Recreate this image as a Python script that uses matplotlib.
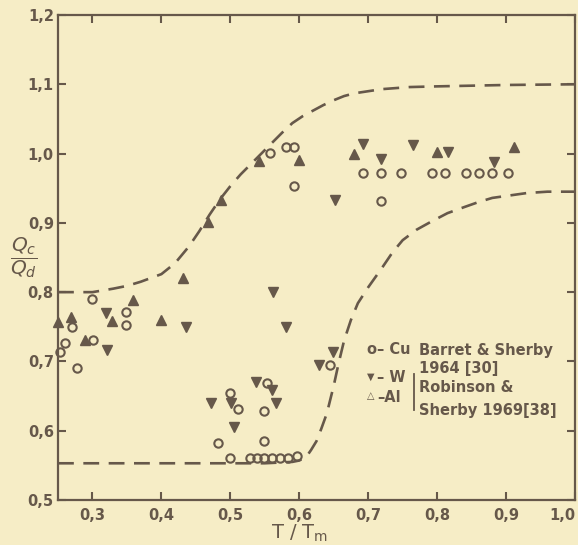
import matplotlib
matplotlib.use('Agg')
import matplotlib.pyplot as plt

# Cu, Barret & Sherby 1964 (open circles)
cu_x = [0.253, 0.260, 0.270, 0.278, 0.300, 0.301, 0.349, 0.349,
        0.482, 0.499, 0.511, 0.549, 0.549, 0.553,
        0.499, 0.528, 0.538, 0.549, 0.561, 0.572, 0.583, 0.596,
        0.558, 0.581, 0.593, 0.593, 0.644,
        0.692, 0.718, 0.747, 0.792, 0.811, 0.842, 0.861, 0.880, 0.903, 0.718]
cu_y = [0.714, 0.727, 0.750, 0.690, 0.790, 0.731, 0.771, 0.752,
        0.582, 0.654, 0.631, 0.628, 0.585, 0.669,
        0.561, 0.561, 0.561, 0.561, 0.561, 0.561, 0.561, 0.563,
        1.001, 1.009, 1.009, 0.953, 0.695,
        0.972, 0.972, 0.972, 0.972, 0.972, 0.972, 0.972, 0.972, 0.972, 0.931]

# W, Robinson & Sherby 1969 (filled down triangles)
w_x = [0.319, 0.321, 0.435, 0.472, 0.501, 0.505, 0.537, 0.560, 0.566, 0.562,
       0.581, 0.629, 0.649, 0.652, 0.693, 0.719, 0.765, 0.816, 0.883]
w_y = [0.770, 0.716, 0.750, 0.640, 0.640, 0.605, 0.670, 0.659, 0.640, 0.800,
       0.750, 0.695, 0.714, 0.933, 1.014, 0.992, 1.012, 1.002, 0.988]

# Al, Robinson & Sherby 1969 (up triangles)
al_x = [0.250, 0.269, 0.289, 0.329, 0.359, 0.400, 0.432, 0.467, 0.486,
        0.542, 0.600, 0.679, 0.800, 0.912]
al_y = [0.757, 0.764, 0.731, 0.758, 0.789, 0.760, 0.820, 0.901, 0.933,
        0.989, 0.991, 0.999, 1.002, 1.009]

# dashed curves
upper_x = [0.25, 0.30, 0.33, 0.35, 0.37, 0.40, 0.42, 0.44, 0.455, 0.47, 0.485,
           0.50, 0.515, 0.53, 0.545, 0.56, 0.575, 0.59, 0.605, 0.62, 0.635,
           0.65, 0.665, 0.68, 0.70, 0.72, 0.76, 0.80, 0.90, 1.00]
upper_y = [0.800, 0.800, 0.805, 0.809, 0.815, 0.826, 0.842, 0.866, 0.888, 0.912,
           0.934, 0.953, 0.970, 0.985, 1.000, 1.015, 1.030, 1.044, 1.054, 1.062,
           1.070, 1.077, 1.083, 1.087, 1.090, 1.093, 1.096, 1.097, 1.099, 1.100]
lower_x = [0.25, 0.40, 0.55, 0.57, 0.59, 0.60, 0.61, 0.617, 0.625, 0.632, 0.64,
           0.645, 0.65, 0.657, 0.665, 0.675, 0.685, 0.70, 0.72, 0.735, 0.75,
           0.77, 0.79, 0.815, 0.84, 0.86, 0.88, 0.93, 0.96, 1.00]
lower_y = [0.553, 0.553, 0.553, 0.554, 0.555, 0.557, 0.562, 0.572, 0.585, 0.603,
           0.625, 0.645, 0.665, 0.697, 0.730, 0.760, 0.784, 0.807, 0.835, 0.857,
           0.875, 0.890, 0.901, 0.914, 0.923, 0.930, 0.936, 0.943, 0.945, 0.945]

xticks = [0.3, 0.4, 0.5, 0.6, 0.7, 0.8, 0.9, 1.0]
xticklabels = ['0,3', '0,4', '0,5', '0,6', '0,7', '0,8', '0,9', '1,0']
yticks = [0.5, 0.6, 0.7, 0.8, 0.9, 1.0, 1.1, 1.2]
yticklabels = ['0,5', '0,6', '0,7', '0,8', '0,9', '1,0', '1,1', '1,2']

ink = '#66584a'
paper = '#f6edc6'
plt.rcParams['mathtext.fontset'] = 'dejavusans'

fig = plt.figure(figsize=(5.78, 5.45), dpi=100, facecolor=paper)
ax = fig.add_axes([58 / 578, 45 / 545, 517 / 578, 485 / 545])
ax.set_facecolor(paper)

dash = (0, (6, 3.6))
ax.plot(upper_x, upper_y, color=ink, lw=1.9, linestyle=dash)
ax.plot(lower_x, lower_y, color=ink, lw=1.9, linestyle=dash)

ax.plot(cu_x, cu_y, 'o', ms=6, mfc='none', mec=ink, mew=1.5, clip_on=False)
ax.plot(w_x, w_y, 'v', ms=6.5, color=ink, clip_on=False)
ax.plot(al_x, al_y, '^', ms=6.5, color=ink, clip_on=False)

ax.set_xlim(0.25, 1.0)
ax.set_ylim(0.5, 1.2)
ax.set_xticks(xticks)
ax.set_xticklabels(xticklabels)
ax.set_yticks(yticks)
ax.set_yticklabels(yticklabels)
ax.tick_params(direction='in', length=6, width=1.5, colors=ink,
               top=True, right=True, labelsize=10.5)
ax.tick_params(axis='x', pad=6)
ax.tick_params(axis='y', pad=3)
for lab in ax.get_xticklabels() + ax.get_yticklabels():
    lab.set_fontweight('bold')
ax.get_xticklabels()[-1].set_horizontalalignment('right')
for sp in ax.spines.values():
    sp.set_color(ink)
    sp.set_linewidth(1.6)

# axis labels
fig.text(300 / 578, 1 - 533 / 545, r'T / T$_\mathrm{m}$', color=ink,
         fontsize=14, ha='center', va='center')
fig.text(24 / 578, 1 - 258 / 545, r'$\dfrac{Q_c}{Q_d}$', color=ink,
         fontsize=14.5, ha='center', va='center')

# legend block
def ftext(px, py, s, size=10.5, **kw):
    fig.text(px / 578, 1 - py / 545, s, color=ink, fontsize=size,
             fontweight='bold', va='center', **kw)

ftext(367, 350, 'o– Cu')
ftext(419, 350, 'Barret & Sherby')
ftext(419, 368, '1964 [30]')
ftext(367, 377, '▼', size=7)
ftext(377, 378, '– W')
ftext(367, 396, '△', size=7)
ftext(377, 397, '–Al')
ftext(419, 388, 'Robinson &')
ftext(419, 411, 'Sherby 1969[38]')
fig.add_artist(plt.Line2D([414 / 578, 414 / 578], [1 - 374 / 545, 1 - 410 / 545],
                          color=ink, lw=1.3))

fig.savefig('out.png', dpi=100, facecolor=paper)
